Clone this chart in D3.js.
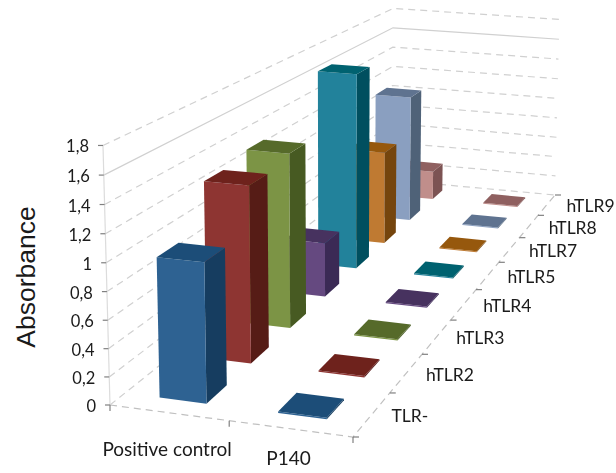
<!DOCTYPE html>
<html><head><meta charset="utf-8">
<script src="https://cdn.jsdelivr.net/npm/d3@7/dist/d3.min.js"></script>
<style>html,body{margin:0;padding:0;background:#fff}svg{display:block}text{fill:#1a1a1a}</style>
</head><body><svg id="c" width="616" height="473"></svg>
<script>
const groups = ["Positive control","P140"];
const receptors = ["TLR-","hTLR2","hTLR3","hTLR4","hTLR5","hTLR7","hTLR8","hTLR9"];
const positiveControl = [1.0,1.33,1.38,0.45,1.7,0.84,1.19,0.28];
const p140 = [0.01,0.01,0.01,0.01,0.01,0.01,0.01,0.01];
const yTicks = [0,0.2,0.4,0.6,0.8,1,1.2,1.4,1.6,1.8];
const yTickLabels = ["0","0,2","0,4","0,6","0,8","1","1,2","1,4","1,6","1,8"];
const faceColors = ["#2e6292","#8e3532","#7b9444","#654a80","#22829b","#bf7a32","#8a9fc0","#c08e8b"];
const topColors  = ["#1c4e78","#6e211e","#566b2c","#46305f","#05626f","#96580f","#5f7390","#8f6160"];
const sideColors = ["#163e60","#561a17","#465a20","#3b2a55","#01505f","#74450f","#4f6278","#7c5252"];

const svg = d3.select("#c");
const defs=svg.append("defs");
defs.append("filter").attr("id","soft").append("feGaussianBlur").attr("stdDeviation",0.5);
defs.append("filter").attr("id","softer").append("feGaussianBlur").attr("stdDeviation",0.3);
const uScale = d3.scaleLinear().domain([0,groups.length]).range([0,1]);
const wScale = d3.scaleLinear().domain([0,receptors.length]).range([0,1]);
const yScale = d3.scaleLinear().domain([0,1.8]).range([0,1]);
// projective camera for the 3D box (floor quad + vertical column)
const Q = [[110,405],[353,437],[555,195],[392,180]];
const hom = (()=>{
  const [p0,p1,p2,p3]=Q;
  const dx1=p1[0]-p2[0],dx2=p3[0]-p2[0],sx=p0[0]-p1[0]+p2[0]-p3[0];
  const dy1=p1[1]-p2[1],dy2=p3[1]-p2[1],sy=p0[1]-p1[1]+p2[1]-p3[1];
  const den=dx1*dy2-dx2*dy1;
  const g=(sx*dy2-dx2*sy)/den,h=(dx1*sy-sx*dy1)/den;
  return {a:p1[0]-p0[0]+g*p1[0],b:p3[0]-p0[0]+h*p3[0],c:p0[0],
          d:p1[1]-p0[1]+g*p1[1],e:p3[1]-p0[1]+h*p3[1],f:p0[1],g,h};
})();
const vx=-10.1, vy=-263.9, vd=-0.03;
function proj(u,w,v){
  const H=hom, Y=yScale(v);
  const D=H.g*u+H.h*w+1+vd*Y;
  return [(H.a*u+H.b*w+H.c+vx*Y)/D,(H.d*u+H.e*w+H.f+vy*Y)/D];
}
const line=d3.line();
const grid=svg.append("g").attr("fill","none").attr("stroke","#d0d0d0").attr("stroke-width",1.2).attr("filter","url(#softer)");
yTicks.forEach(t=>{
  grid.append("path").attr("d",line([proj(0,0,t),proj(0,1,t),proj(1,1,t)]))
    .attr("stroke-dasharray",t===1.6?null:"7 5");
});
grid.append("path").attr("d",line([proj(0,0,0),proj(0,0,1.8)])).attr("stroke","#dcdcdc");
grid.append("path").attr("d",line([proj(0,0,0),proj(1,0,0),proj(1,1,0)])).attr("stroke-dasharray","7 5").attr("stroke","#c0c0c0");

const ticks=svg.append("g").attr("stroke","#808080").attr("stroke-width",1.2).attr("fill","none");
yTicks.forEach(t=>{const p=proj(0,0,t);
  ticks.append("path").attr("d",line([[p[0]-5,p[1]],p]));});
d3.range(groups.length+1).forEach(i=>{const p=proj(uScale(i),0,0);
  ticks.append("path").attr("d",line([p,[p[0],p[1]+6]]));});
d3.range(receptors.length+1).forEach(i=>{const p=proj(1,wScale(i),0);
  ticks.append("path").attr("d",line([p,[p[0]+6,p[1]]]));});

// bars
const barFrac=0.4, offs=(1-barFrac)/2, depthFrac=0.44, dOffs=(1-depthFrac)/2;
const bars=[];
receptors.forEach((r,ri)=>{
  [positiveControl,p140].forEach((series,gi)=>bars.push({ri,gi,v:series[ri]}));
});
bars.sort((a,b)=>d3.descending(a.ri,b.ri)||d3.ascending(a.gi,b.gi));
const gb=svg.append("g").attr("filter","url(#soft)");
bars.forEach(b=>{
  const u0=uScale(b.gi+offs),u1=uScale(b.gi+1-offs),w0=wScale(b.ri+dOffs),w1=wScale(b.ri+1-dOffs);
  const poly=(pts,fill)=>gb.append("path").attr("d",line(pts)+"Z").attr("fill",fill);
  poly([proj(u1,w0,0),proj(u1,w1,0),proj(u1,w1,b.v),proj(u1,w0,b.v)],sideColors[b.ri]);
  poly([proj(u0,w0,0),proj(u1,w0,0),proj(u1,w0,b.v),proj(u0,w0,b.v)],faceColors[b.ri]);
  poly([proj(u0,w0,b.v),proj(u1,w0,b.v),proj(u1,w1,b.v),proj(u0,w1,b.v)],topColors[b.ri]);
});

const font="Lato, 'Open Sans', sans-serif";
const tl=svg.append("g").attr("font-family",font).attr("filter","url(#softer)");
yTicks.forEach((t,i)=>{const p=proj(0,0,t);
  tl.append("text").attr("x",p[0]-14).attr("y",p[1]+7).attr("text-anchor","end").attr("font-size",16.5).text(yTickLabels[i]);});
const drop=d3.scaleLinear().domain([0,1]).range([43,36]);
groups.forEach((g,i)=>{const p=proj(uScale(i+0.5),0,0);
  tl.append("text").attr("x",p[0]-2).attr("y",p[1]+drop(i)).attr("text-anchor","middle").attr("font-size",19).text(g);});
receptors.forEach((r,i)=>{const a=proj(1,wScale(i),0),b=proj(1,wScale(i+1),0);
  tl.append("text").attr("x",(a[0]+b[0])/2+20).attr("y",(a[1]+b[1])/2+7).attr("font-size",17.5).text(r);});
svg.append("text").attr("transform","translate(35,277) rotate(-90)").attr("text-anchor","middle")
  .attr("font-family","'Liberation Sans', Arial, sans-serif").attr("font-size",26.5).text("Absorbance");
</script></body></html>
